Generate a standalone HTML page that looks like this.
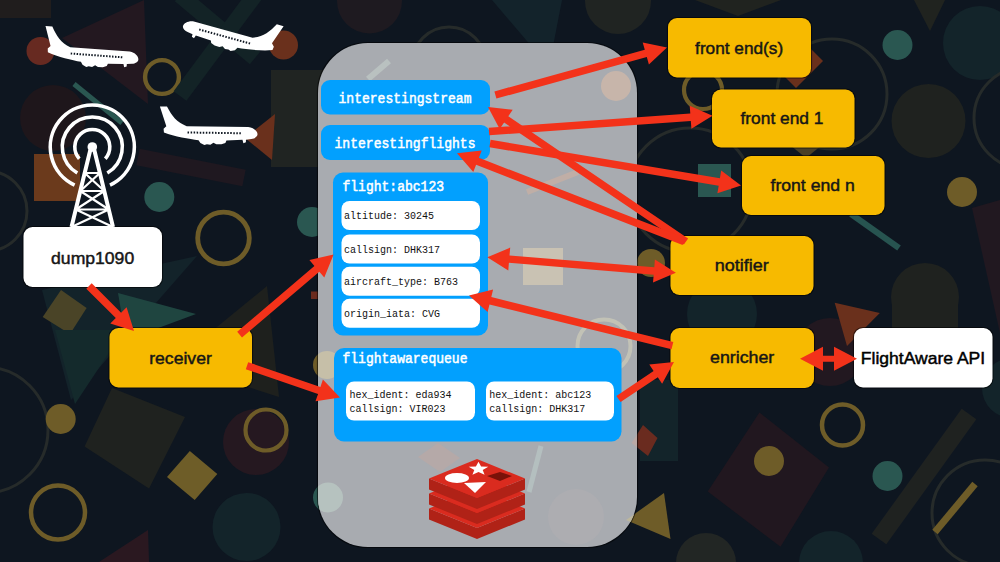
<!DOCTYPE html>
<html><head><meta charset="utf-8"><style>
html,body{margin:0;padding:0;width:1000px;height:562px;overflow:hidden;background:#0e1620;}
svg{display:block}
</style></head><body>
<svg width="1000" height="562" viewBox="0 0 1000 562"><rect x="0" y="0" width="1000" height="562" fill="#0e1620"/>
<rect x="0" y="0" width="51" height="18" fill="#201d1d"/>
<polygon points="62,38 144,0 148,104" fill="#231820"/>
<circle cx="40.5" cy="51" r="14" fill="#672a21"/>
<circle cx="162" cy="77" r="16.9" fill="none" stroke="#6e5c28" stroke-width="4.4"/>
<line x1="180" y1="-5" x2="255" y2="58" stroke="#132326" stroke-width="16"/>
<line x1="255" y1="-5" x2="180" y2="96" stroke="#132326" stroke-width="16"/>
<circle cx="283.5" cy="45" r="14.5" fill="#6a301c"/>
<rect x="271" y="70" width="60" height="97" fill="#202422"/>
<line x1="74" y1="84" x2="122" y2="123" stroke="#2a5751" stroke-width="5"/>
<circle cx="53" cy="118" r="33" fill="#1e161b"/>
<polygon points="245,138 275,114 272,160" fill="#6a301c"/>
<rect x="34" y="154" width="46" height="47" fill="#6b3a1c"/>
<circle cx="-13" cy="211" r="40" fill="none" stroke="#262b2a" stroke-width="3"/>
<circle cx="159.3" cy="197" r="15" fill="#2a5751"/>
<circle cx="223.5" cy="238" r="25.8" fill="none" stroke="#6e5c28" stroke-width="4.8"/>
<circle cx="312" cy="222" r="15" fill="#2a5751"/>
<line x1="138" y1="157" x2="244" y2="178" stroke="#1f1820" stroke-width="17"/>
<polygon points="42,290 197,256 71,400" fill="#13232a"/>
<polygon points="61,290 86.6,308 70,334 42.7,317" fill="#4a4427"/>
<polygon points="118,293 196,314 126,340" fill="#1f4540"/>
<polygon points="267,286 173,363 279,397" fill="#1e201d"/>
<polygon points="55,330 124,330 75,404" fill="#142a2c"/>
<circle cx="-15" cy="430" r="63" fill="none" stroke="#262b2a" stroke-width="3"/>
<circle cx="60.7" cy="419" r="15" fill="#6e5c28"/>
<circle cx="327" cy="365" r="14" fill="#6e5c28"/>
<polygon points="112,388 185,417 149,488.5 84.6,446.4" fill="#1f221f"/>
<polygon points="189.8,451 217.3,474 194.7,500 167,477" fill="#6e5d28"/>
<circle cx="256" cy="442" r="33" fill="#251820"/>
<circle cx="266" cy="430" r="20.5" fill="none" stroke="#6e5c28" stroke-width="4.2"/>
<circle cx="58" cy="512.6" r="27" fill="none" stroke="#6e5c28" stroke-width="4.5"/>
<circle cx="246.5" cy="527" r="34" fill="#13242a"/><circle cx="328" cy="497.5" r="15" fill="#2a5751"/><rect x="311" y="291.5" width="14" height="7.5" fill="#6a2b1f"/>
<polygon points="99,562 148,530 149,562" fill="#2a1820"/>
<circle cx="369.5" cy="1" r="32.5" fill="#1e1a20"/><circle cx="449" cy="64" r="37" fill="none" stroke="#262b2a" stroke-width="3"/>
<polygon points="492,0 562,0 549,67" fill="#13232b"/>
<circle cx="618" cy="1" r="33" fill="#202422"/>
<polygon points="695,0 781,0 738,16" fill="#20231f"/>
<polygon points="914,0 945,0 930,31" fill="#20231f"/>
<circle cx="897.5" cy="45" r="15" fill="#2a5751"/>
<circle cx="980" cy="43" r="37" fill="#13242a"/>
<circle cx="832" cy="94" r="55" fill="none" stroke="#262b2a" stroke-width="3"/>
<circle cx="703" cy="90" r="19" fill="none" stroke="#6e5c28" stroke-width="4.2"/>
<polygon points="797,35 823,61 796,88 770,62" fill="#6a301c"/>
<circle cx="928.5" cy="121" r="37" fill="#1f221f"/>
<circle cx="1025" cy="118" r="51" fill="none" stroke="#262b2a" stroke-width="3"/>
<rect x="698" y="164" width="33" height="33" fill="#2a5751"/>
<circle cx="962" cy="192" r="15" fill="#6e5c28"/>
<polygon points="790,145 822,145 806,158" fill="#4a4026"/>
<circle cx="690" cy="190" r="62" fill="none" stroke="#262b2a" stroke-width="3"/>
<line x1="851" y1="214" x2="899" y2="248" stroke="#275450" stroke-width="6.2"/>
<circle cx="925" cy="297" r="34" fill="#1f221f"/><rect x="892" y="297" width="66" height="35" fill="#1f221f"/>
<polygon points="972,208 1000,200 1000,333" fill="#211820"/>
<circle cx="830" cy="352" r="34" fill="#221820"/>
<polygon points="834.7,302.7 879.8,313 847,346" fill="#6a301c"/>
<circle cx="651" cy="263" r="14" fill="#6e5c28"/>
<circle cx="722" cy="314" r="35" fill="#13242a"/>
<rect x="640" y="380" width="38" height="81" fill="#13242a"/>
<polygon points="643,425 657.5,438 648,456 631.6,443" fill="#6a2b1f"/>
<polygon points="759.4,412.4 829,467.4 780.5,546.7 707.7,491.6" fill="#21171f"/>
<circle cx="769" cy="461" r="15" fill="#6e5c28"/>
<circle cx="842.5" cy="425" r="20.5" fill="none" stroke="#6e5c28" stroke-width="4.5"/><circle cx="1012" cy="388" r="30" fill="#13242a"/>
<circle cx="887.5" cy="476" r="15" fill="#2a5751"/>
<line x1="969" y1="414" x2="879" y2="539" stroke="#1f2220" stroke-width="18"/>
<circle cx="985" cy="513" r="53" fill="none" stroke="#262b2a" stroke-width="3"/>
<line x1="975" y1="484" x2="935" y2="532" stroke="#6e5c28" stroke-width="7"/>
<polygon points="664,493 670.5,539 626,520" fill="#6e5c28"/>
<circle cx="706" cy="563" r="30" fill="#222624"/>
<circle cx="831" cy="563" r="32" fill="#13242a"/>
<defs><clipPath id="gb"><rect x="318" y="43" width="319" height="504" rx="50" ry="50"/></clipPath></defs>
<rect x="317.5" y="42.5" width="320" height="505" rx="50.5" ry="50.5" fill="none" stroke="#000" stroke-opacity="0.55" stroke-width="1.2"/>
<rect x="318" y="43" width="319" height="504" rx="50" ry="50" fill="#a8abb0"/>
<g clip-path="url(#gb)"><line x1="368" y1="79" x2="389" y2="61" stroke="#b9c1c0" stroke-width="6"/>
<circle cx="616" cy="86" r="15" fill="#c7b5aa"/>
<line x1="527" y1="192" x2="578" y2="172" stroke="#c0aea6" stroke-width="6"/>
<rect x="523" y="248" width="40" height="37" fill="#c9c2b3"/>
<circle cx="604" cy="346" r="26.5" fill="none" stroke="#c2c2b6" stroke-width="4"/>
<circle cx="328" cy="497.5" r="15" fill="#b6c2bf"/>
<circle cx="327" cy="365" r="14" fill="#c6bfa8"/>
<line x1="541" y1="446" x2="529" y2="492" stroke="#b4bfbf" stroke-width="5"/>
<polygon points="438,443 460,458 440,472 418,457" fill="#b5a9a8"/>
<polygon points="643,425 657.5,438 648,456 631.6,443" fill="#bba9a6"/>
<polygon points="664,493 670.5,539 626,520" fill="#bdb79c"/>
<circle cx="576" cy="517" r="28" fill="#adadb1"/></g>
<rect x="321" y="80" width="169" height="34.5" rx="9" fill="#02a0fe"/>
<text x="338.5" y="103" style="font-family:'Liberation Mono',monospace;font-size:15.5px" fill="#fff" stroke="#fff" stroke-width="0.55" textLength="133" lengthAdjust="spacingAndGlyphs">interestingstream</text>
<rect x="321" y="125" width="169" height="35" rx="9" fill="#02a0fe"/>
<text x="334.5" y="148" style="font-family:'Liberation Mono',monospace;font-size:15.5px" fill="#fff" stroke="#fff" stroke-width="0.55" textLength="141" lengthAdjust="spacingAndGlyphs">interestingflights</text>
<rect x="333" y="172.5" width="155" height="163" rx="10" fill="#02a0fe"/>
<text x="342.5" y="190.5" style="font-family:'Liberation Mono',monospace;font-size:15.5px" fill="#fff" stroke="#fff" stroke-width="0.55" textLength="101.5" lengthAdjust="spacingAndGlyphs">flight:abc123</text>
<rect x="341.5" y="201" width="138.5" height="29" rx="8" fill="#fff"/>
<text x="344" y="219" style="font-family:'Liberation Mono',monospace;font-size:11px" fill="#111" textLength="90.0" lengthAdjust="spacingAndGlyphs">altitude: 30245</text>
<rect x="341.5" y="234.5" width="138.5" height="29" rx="8" fill="#fff"/>
<text x="344" y="252.5" style="font-family:'Liberation Mono',monospace;font-size:11px" fill="#111" textLength="96.0" lengthAdjust="spacingAndGlyphs">callsign: DHK317</text>
<rect x="341.5" y="266.8" width="138.5" height="29" rx="8" fill="#fff"/>
<text x="344" y="284.8" style="font-family:'Liberation Mono',monospace;font-size:11px" fill="#111" textLength="114.0" lengthAdjust="spacingAndGlyphs">aircraft_type: B763</text>
<rect x="341.5" y="298.8" width="138.5" height="29" rx="8" fill="#fff"/>
<text x="344" y="316.8" style="font-family:'Liberation Mono',monospace;font-size:11px" fill="#111" textLength="96.0" lengthAdjust="spacingAndGlyphs">origin_iata: CVG</text>
<rect x="334" y="348" width="287.5" height="93.5" rx="10" fill="#02a0fe"/>
<text x="342.5" y="363" style="font-family:'Liberation Mono',monospace;font-size:15.5px" fill="#fff" stroke="#fff" stroke-width="0.55" textLength="125" lengthAdjust="spacingAndGlyphs">flightawarequeue</text>
<rect x="346" y="381.5" width="129" height="39" rx="8" fill="#fff"/>
<text x="349.5" y="398.4" style="font-family:'Liberation Mono',monospace;font-size:11px" fill="#111" textLength="102.0" lengthAdjust="spacingAndGlyphs">hex_ident: eda934</text>
<text x="349.5" y="412" style="font-family:'Liberation Mono',monospace;font-size:11px" fill="#111" textLength="96.0" lengthAdjust="spacingAndGlyphs">callsign: VIR023</text>
<rect x="486" y="381.5" width="128" height="39" rx="8" fill="#fff"/>
<text x="489.2" y="398.4" style="font-family:'Liberation Mono',monospace;font-size:11px" fill="#111" textLength="102.0" lengthAdjust="spacingAndGlyphs">hex_ident: abc123</text>
<text x="489.2" y="412" style="font-family:'Liberation Mono',monospace;font-size:11px" fill="#111" textLength="96.0" lengthAdjust="spacingAndGlyphs">callsign: DHK317</text>
<polygon points="429,508.5 477,528.0 525,508.5 525,519.5 477,539.0 429,519.5" fill="#b02217"/>
<polygon points="477,489 525,508.5 477,528.0 429,508.5" fill="#da2b1f"/>
<polygon points="429,493.5 477,513.0 525,493.5 525,504.5 477,524.0 429,504.5" fill="#b02217"/>
<polygon points="477,474 525,493.5 477,513.0 429,493.5" fill="#da2b1f"/>
<polygon points="429,478.5 477,498.0 525,478.5 525,489.5 477,509.0 429,489.5" fill="#b02217"/>
<polygon points="477,459 525,478.5 477,498.0 429,478.5" fill="#da2b1f"/>
<ellipse cx="457" cy="478" rx="12" ry="5" fill="#fff"/>
<polygon points="464,483 486,482 475,493" fill="#fff"/>
<polygon points="478.5,461.8 481.1,466.5 488.3,466.8 482.7,469.9 484.6,474.8 478.5,472.0 472.4,474.8 474.3,469.9 468.7,466.8 475.9,466.5" fill="#fff"/>
<polygon points="487,476 500,472 512,476 500,481" fill="#7a1209"/>
<rect x="667.5" y="17.5" width="144" height="60.5" rx="9.5" fill="none" stroke="#000" stroke-opacity="0.55" stroke-width="1.2"/><rect x="668" y="18" width="143" height="59.5" rx="9" fill="#f7ba00"/><text x="695.10" y="53.8" textLength="88.10" lengthAdjust="spacingAndGlyphs" style="font-family:'Liberation Sans',sans-serif;font-size:16.6px" fill="#161616" stroke="#161616" stroke-width="0.45">front end(s)</text>
<rect x="711.5" y="89.0" width="143.5" height="59" rx="9.5" fill="none" stroke="#000" stroke-opacity="0.55" stroke-width="1.2"/><rect x="712" y="89.5" width="142.5" height="58" rx="9" fill="#f7ba00"/><text x="740.50" y="124.2" textLength="83.00" lengthAdjust="spacingAndGlyphs" style="font-family:'Liberation Sans',sans-serif;font-size:16.6px" fill="#161616" stroke="#161616" stroke-width="0.45">front end 1</text>
<rect x="741.5" y="155.5" width="143.5" height="60" rx="9.5" fill="none" stroke="#000" stroke-opacity="0.55" stroke-width="1.2"/><rect x="742" y="156" width="142.5" height="59" rx="9" fill="#f7ba00"/><text x="770.50" y="191.2" textLength="84.20" lengthAdjust="spacingAndGlyphs" style="font-family:'Liberation Sans',sans-serif;font-size:16.6px" fill="#161616" stroke="#161616" stroke-width="0.45">front end n</text>
<rect x="670.0" y="235.5" width="144" height="60" rx="9.5" fill="none" stroke="#000" stroke-opacity="0.55" stroke-width="1.2"/><rect x="670.5" y="236" width="143" height="59" rx="9" fill="#f7ba00"/><text x="714.80" y="271" textLength="54.00" lengthAdjust="spacingAndGlyphs" style="font-family:'Liberation Sans',sans-serif;font-size:16.6px" fill="#161616" stroke="#161616" stroke-width="0.45">notifier</text>
<rect x="670.0" y="327.5" width="144.5" height="61" rx="9.5" fill="none" stroke="#000" stroke-opacity="0.55" stroke-width="1.2"/><rect x="670.5" y="328" width="143.5" height="60" rx="9" fill="#f7ba00"/><text x="710.10" y="363.4" textLength="64.20" lengthAdjust="spacingAndGlyphs" style="font-family:'Liberation Sans',sans-serif;font-size:16.6px" fill="#161616" stroke="#161616" stroke-width="0.45">enricher</text>
<rect x="109.0" y="327.5" width="143.5" height="60.5" rx="9.5" fill="none" stroke="#000" stroke-opacity="0.55" stroke-width="1.2"/><rect x="109.5" y="328" width="142.5" height="59.5" rx="9" fill="#f7ba00"/><text x="149.20" y="363.8" textLength="62.60" lengthAdjust="spacingAndGlyphs" style="font-family:'Liberation Sans',sans-serif;font-size:16.6px" fill="#161616" stroke="#161616" stroke-width="0.45">receiver</text>
<rect x="23.0" y="226.5" width="139.5" height="61" rx="9.5" fill="none" stroke="#000" stroke-opacity="0.55" stroke-width="1.2"/><rect x="23.5" y="227" width="138.5" height="60" rx="9" fill="#fff"/><text x="51.10" y="263.5" textLength="83.10" lengthAdjust="spacingAndGlyphs" style="font-family:'Liberation Sans',sans-serif;font-size:16.6px" fill="#161616" stroke="#161616" stroke-width="0.45">dump1090</text>
<rect x="853.5" y="327.5" width="139.5" height="60.5" rx="9.5" fill="none" stroke="#000" stroke-opacity="0.55" stroke-width="1.2"/><rect x="854" y="328" width="138.5" height="59.5" rx="9" fill="#fff"/><text x="860.80" y="363.9" textLength="124.40" lengthAdjust="spacingAndGlyphs" style="font-family:'Liberation Sans',sans-serif;font-size:16.6px" fill="#000" stroke="#000" stroke-width="0.45">FlightAware API</text>
<path d="M74.6,185.1 A42,42 0 1 1 110.0,185.1" fill="none" stroke="#fff" stroke-width="3.6"/>
<path d="M77.3,173.0 A30,30 0 1 1 107.3,173.0" fill="none" stroke="#fff" stroke-width="3.6"/>
<path d="M79.3,158.7 A17.5,17.5 0 1 1 105.3,158.7" fill="none" stroke="#fff" stroke-width="3.6"/>
<circle cx="92.3" cy="147" r="4.8" fill="#fff"/>
<path d="M90.3,150 L71.5,227 M94.3,150 L113,227" stroke="#fff" stroke-width="4" fill="none"/>
<path d="M84.7,173 L99.9,173 M80.3,191 L104.3,191 M75.8,209.5 L108.8,209.5 M71.5,227 L113.0,227 M84.7,173 L104.3,191 M99.9,173 L80.3,191 M80.3,191 L108.8,209.5 M104.3,191 L75.8,209.5 M75.8,209.5 L113.0,227 M108.8,209.5 L71.5,227" stroke="#fff" stroke-width="2.2" fill="none"/>
<g transform="translate(45.5,26) rotate(4.2)  scale(0.97,1.0)"><path d="M0,0 L7.1,0 C12,9 17,16 27.1,19.3 L88.6,19.3 C94,19.8 98,23.5 98,26.5 C98,29 95,30.9 91.9,31.2 L86.5,32 L86.5,34.5 L84,35.5 L83,32.2 L67,33 L66,35.5 L62,37 L57,37 L54,35.5 L51,37.5 L47.5,37 L45,38 L41,36 L39.1,33.1 C30,32.2 15,30 4.4,26 L4,22.3 L6.7,19.6 Z" fill="#fff"/><rect x="28.0" y="24.6" width="1.5" height="2" fill="#0e1620"/><rect x="31.1" y="24.6" width="1.5" height="2" fill="#0e1620"/><rect x="34.1" y="24.6" width="1.5" height="2" fill="#0e1620"/><rect x="37.1" y="24.6" width="1.5" height="2" fill="#0e1620"/><rect x="40.2" y="24.6" width="1.5" height="2" fill="#0e1620"/><rect x="43.2" y="24.6" width="1.5" height="2" fill="#0e1620"/><rect x="46.3" y="24.6" width="1.5" height="2" fill="#0e1620"/><rect x="49.3" y="24.6" width="1.5" height="2" fill="#0e1620"/><rect x="52.4" y="24.6" width="1.5" height="2" fill="#0e1620"/><rect x="55.5" y="24.6" width="1.5" height="2" fill="#0e1620"/><rect x="58.5" y="24.6" width="1.5" height="2" fill="#0e1620"/><rect x="61.5" y="24.6" width="1.5" height="2" fill="#0e1620"/><rect x="64.6" y="24.6" width="1.5" height="2" fill="#0e1620"/><rect x="67.7" y="24.6" width="1.5" height="2" fill="#0e1620"/><rect x="70.7" y="24.6" width="1.5" height="2" fill="#0e1620"/><rect x="73.8" y="24.6" width="1.5" height="2" fill="#0e1620"/><rect x="76.8" y="24.6" width="1.5" height="2" fill="#0e1620"/><rect x="79.8" y="24.6" width="1.5" height="2" fill="#0e1620"/></g>
<g transform="translate(159.9,106.5) rotate(0.8)  scale(1.0,1.0)"><path d="M0,0 L7.1,0 C12,9 17,16 27.1,19.3 L88.6,19.3 C94,19.8 98,23.5 98,26.5 C98,29 95,30.9 91.9,31.2 L86.5,32 L86.5,34.5 L84,35.5 L83,32.2 L67,33 L66,35.5 L62,37 L57,37 L54,35.5 L51,37.5 L47.5,37 L45,38 L41,36 L39.1,33.1 C30,32.2 15,30 4.4,26 L4,22.3 L6.7,19.6 Z" fill="#fff"/><rect x="28.0" y="24.6" width="1.5" height="2" fill="#0e1620"/><rect x="31.1" y="24.6" width="1.5" height="2" fill="#0e1620"/><rect x="34.1" y="24.6" width="1.5" height="2" fill="#0e1620"/><rect x="37.1" y="24.6" width="1.5" height="2" fill="#0e1620"/><rect x="40.2" y="24.6" width="1.5" height="2" fill="#0e1620"/><rect x="43.2" y="24.6" width="1.5" height="2" fill="#0e1620"/><rect x="46.3" y="24.6" width="1.5" height="2" fill="#0e1620"/><rect x="49.3" y="24.6" width="1.5" height="2" fill="#0e1620"/><rect x="52.4" y="24.6" width="1.5" height="2" fill="#0e1620"/><rect x="55.5" y="24.6" width="1.5" height="2" fill="#0e1620"/><rect x="58.5" y="24.6" width="1.5" height="2" fill="#0e1620"/><rect x="61.5" y="24.6" width="1.5" height="2" fill="#0e1620"/><rect x="64.6" y="24.6" width="1.5" height="2" fill="#0e1620"/><rect x="67.7" y="24.6" width="1.5" height="2" fill="#0e1620"/><rect x="70.7" y="24.6" width="1.5" height="2" fill="#0e1620"/><rect x="73.8" y="24.6" width="1.5" height="2" fill="#0e1620"/><rect x="76.8" y="24.6" width="1.5" height="2" fill="#0e1620"/><rect x="79.8" y="24.6" width="1.5" height="2" fill="#0e1620"/></g>
<g transform="translate(283.6,26.2) rotate(15.4) scale(-1,1) scale(0.99,1.0)"><path d="M0,0 L7.1,0 C12,9 17,16 27.1,19.3 L88.6,19.3 C94,19.8 98,23.5 98,26.5 C98,29 95,30.9 91.9,31.2 L86.5,32 L86.5,34.5 L84,35.5 L83,32.2 L67,33 L66,35.5 L62,37 L57,37 L54,35.5 L51,37.5 L47.5,37 L45,38 L41,36 L39.1,33.1 C30,32.2 15,30 4.4,26 L4,22.3 L6.7,19.6 Z" fill="#fff"/><rect x="28.0" y="24.6" width="1.5" height="2" fill="#0e1620"/><rect x="31.1" y="24.6" width="1.5" height="2" fill="#0e1620"/><rect x="34.1" y="24.6" width="1.5" height="2" fill="#0e1620"/><rect x="37.1" y="24.6" width="1.5" height="2" fill="#0e1620"/><rect x="40.2" y="24.6" width="1.5" height="2" fill="#0e1620"/><rect x="43.2" y="24.6" width="1.5" height="2" fill="#0e1620"/><rect x="46.3" y="24.6" width="1.5" height="2" fill="#0e1620"/><rect x="49.3" y="24.6" width="1.5" height="2" fill="#0e1620"/><rect x="52.4" y="24.6" width="1.5" height="2" fill="#0e1620"/><rect x="55.5" y="24.6" width="1.5" height="2" fill="#0e1620"/><rect x="58.5" y="24.6" width="1.5" height="2" fill="#0e1620"/><rect x="61.5" y="24.6" width="1.5" height="2" fill="#0e1620"/><rect x="64.6" y="24.6" width="1.5" height="2" fill="#0e1620"/><rect x="67.7" y="24.6" width="1.5" height="2" fill="#0e1620"/><rect x="70.7" y="24.6" width="1.5" height="2" fill="#0e1620"/><rect x="73.8" y="24.6" width="1.5" height="2" fill="#0e1620"/><rect x="76.8" y="24.6" width="1.5" height="2" fill="#0e1620"/><rect x="79.8" y="24.6" width="1.5" height="2" fill="#0e1620"/></g>
<polygon points="496.4,98.6 646.8,57.1 648.9,64.5 667.0,47.6 642.7,42.4 644.8,49.8 494.4,91.4" fill="#f3321a"/>
<polygon points="489.3,135.2 690.8,121.0 691.4,128.7 712.5,115.7 689.7,105.8 690.3,113.5 488.7,127.8" fill="#f3321a"/>
<polygon points="489.4,147.2 718.7,185.7 717.4,193.3 741.0,185.6 721.2,170.6 719.9,178.3 490.6,139.8" fill="#f3321a"/>
<polygon points="688.1,238.4 508.3,116.3 512.7,109.8 488.0,107.0 499.7,128.9 504.1,122.5 683.9,244.6" fill="#f3321a"/>
<polygon points="685.4,238.0 478.9,157.8 481.7,150.5 457.0,153.3 473.3,172.0 476.1,164.8 682.6,245.0" fill="#f3321a"/>
<polygon points="487.3,257.3 508.3,270.6 508.9,262.8 653.7,274.7 653.0,282.5 675.9,272.8 654.9,259.5 654.3,267.3 509.5,255.4 510.2,247.6" fill="#f3321a"/>
<polygon points="673.3,342.1 491.3,297.1 493.1,289.6 469.0,295.5 487.6,311.9 489.5,304.4 671.5,349.3" fill="#f3321a"/>
<polygon points="620.6,402.1 657.8,377.3 662.1,383.8 674.0,362.0 649.3,364.6 653.6,371.1 616.4,395.9" fill="#f3321a"/>
<polygon points="800.0,358.7 823.0,370.7 823.0,361.7 834.0,361.7 834.0,370.7 857.0,358.7 834.0,346.7 834.0,355.7 823.0,355.7 823.0,346.7" fill="#f3321a"/>
<polygon points="86.3,288.7 115.8,318.1 110.3,323.6 134.0,331.0 126.6,307.3 121.1,312.8 91.7,283.3" fill="#f3321a"/>
<polygon points="242.0,337.5 319.3,271.7 324.3,277.6 333.6,254.6 309.4,260.1 314.4,266.0 237.2,331.7" fill="#f3321a"/>
<polygon points="245.8,369.2 318.0,394.0 315.5,401.3 340.0,397.6 322.9,379.6 320.4,386.9 248.2,362.2" fill="#f3321a"/></svg>
</body></html>
